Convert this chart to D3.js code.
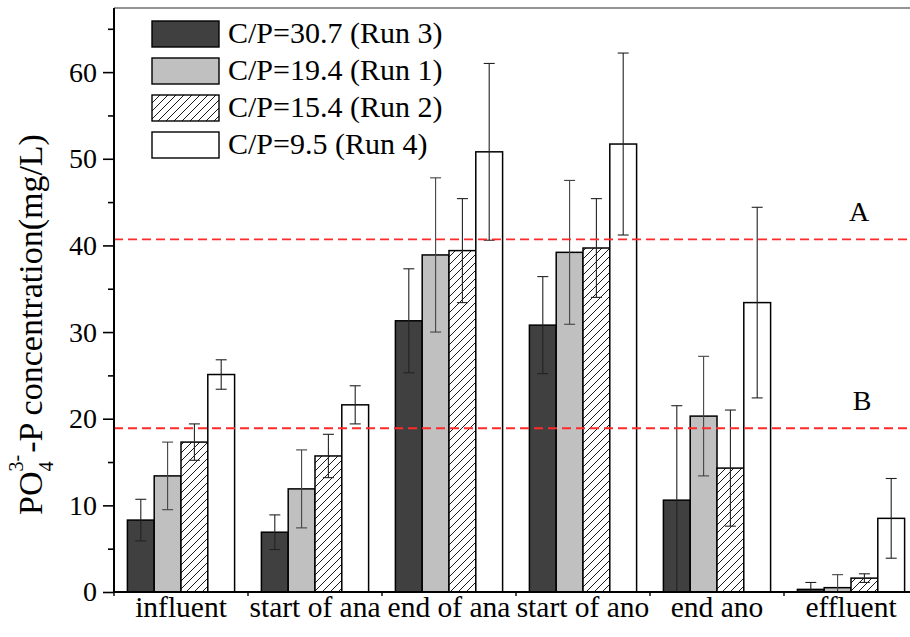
<!DOCTYPE html>
<html>
<head>
<meta charset="utf-8">
<script src="https://cdn.jsdelivr.net/npm/d3@7"></script>
<style>
  body { margin: 0; background: #fff; }
  text { font-family: "Liberation Serif", "Times New Roman", serif; fill: #000; }
</style>
</head>
<body>
<div id="chart"></div>
<script>
var width = 910;
var height = 637;

// data
var categories = ["influent", "start of ana", "end of ana", "start of ano", "end ano", "effluent"];
var seriesNames = ["C/P=30.7 (Run 3)", "C/P=19.4 (Run 1)", "C/P=15.4 (Run 2)", "C/P=9.5 (Run 4)"];
var run3 = [8.3, 6.9, 31.3, 30.8, 10.6, 0.3];
var run3Err = [2.4, 2.0, 6.0, 5.6, 10.9, 0.8];
var run1 = [13.4, 11.9, 38.9, 39.2, 20.3, 0.5];
var run1Err = [3.9, 4.5, 8.9, 8.3, 6.9, 1.5];
var run2 = [17.3, 15.7, 39.4, 39.7, 14.3, 1.6];
var run2Err = [2.1, 2.5, 6.0, 5.7, 6.7, 0.5];
var run4 = [25.1, 21.6, 50.8, 51.7, 33.4, 8.5];
var run4Err = [1.7, 2.2, 10.2, 10.5, 11.0, 4.6];
var refLabels = ["A", "B"];
var refValues = [40.7, 18.9];
var yTicks = [0, 10, 20, 30, 40, 50, 60];

var values = [run3, run1, run2, run4];
var errors = [run3Err, run1Err, run2Err, run4Err];
var fills = ["#404040", "#c0c0c0", "url(#hatch)", "#ffffff"];

var margin = {top: 8, left: 114, bottom: 45};
var plotW = 804;
var plotH = height - margin.top - margin.bottom;

var svg = d3.select("#chart")
      .append("svg")
      .attr("width", width)
      .attr("height", height);

var defs = svg.append("defs");
var pat = defs.append("pattern")
      .attr("id", "hatch")
      .attr("patternUnits", "userSpaceOnUse")
      .attr("width", 8)
      .attr("height", 8);
pat.append("rect").attr("width", 8).attr("height", 8).attr("fill", "#fff");
pat.append("path")
      .attr("d", "M-1,1 l2,-2 M0,8 l8,-8 M7,9 l2,-2")
      .attr("stroke", "#000")
      .attr("stroke-width", 0.9);

var g = svg.append("g").attr("transform", "translate(" + margin.left + "," + margin.top + ")");

var x0 = d3.scaleBand().domain(categories).range([0, plotW]);
var x1 = d3.scaleBand().domain(d3.range(4))
      .range([x0.bandwidth() * 0.1, x0.bandwidth() * 0.9]);
var y = d3.scaleLinear().domain([0, 67.4]).range([plotH, 0]).clamp(true);

var rows = [];
categories.forEach(function(c, i){
  values.forEach(function(v, s){
    rows.push({cat: c, s: s, v: v[i], e: errors[s][i]});
  });
});

// bars
g.selectAll("rect.bar")
  .data(rows)
  .enter()
  .append("rect")
  .attr("class", "bar")
  .attr("x", function(d){ return x0(d.cat) + x1(d.s); })
  .attr("y", function(d){ return y(d.v); })
  .attr("width", x1.bandwidth())
  .attr("height", function(d){ return y(0) - y(d.v); })
  .attr("fill", function(d){ return fills[d.s]; })
  .attr("stroke", "#000")
  .attr("stroke-width", 1.5);

// error bars
var capW = 5.5;
var eb = g.selectAll("g.err")
  .data(rows)
  .enter()
  .append("g")
  .attr("class", "err")
  .attr("stroke", function(d){ return d.s == 1 ? "#444" : "#222"; })
  .attr("stroke-width", 1.1);

eb.append("line")
  .attr("x1", function(d){ return x0(d.cat) + x1(d.s) + x1.bandwidth() / 2; })
  .attr("x2", function(d){ return x0(d.cat) + x1(d.s) + x1.bandwidth() / 2; })
  .attr("y1", function(d){ return y(d.v + d.e); })
  .attr("y2", function(d){ return y(d.v - d.e); });
eb.append("line")
  .attr("x1", function(d){ return x0(d.cat) + x1(d.s) + x1.bandwidth() / 2 - capW; })
  .attr("x2", function(d){ return x0(d.cat) + x1(d.s) + x1.bandwidth() / 2 + capW; })
  .attr("y1", function(d){ return y(d.v + d.e); })
  .attr("y2", function(d){ return y(d.v + d.e); });
eb.append("line")
  .attr("x1", function(d){ return x0(d.cat) + x1(d.s) + x1.bandwidth() / 2 - capW; })
  .attr("x2", function(d){ return x0(d.cat) + x1(d.s) + x1.bandwidth() / 2 + capW; })
  .attr("y1", function(d){ return y(d.v - d.e); })
  .attr("y2", function(d){ return y(d.v - d.e); });

// reference lines
g.selectAll("line.ref")
  .data(refValues)
  .enter()
  .append("line")
  .attr("class", "ref")
  .attr("x1", 0)
  .attr("x2", plotW)
  .attr("y1", function(d){ return y(d); })
  .attr("y2", function(d){ return y(d); })
  .attr("stroke", "#ff2a2a")
  .attr("stroke-width", 1.8)
  .attr("stroke-dasharray", "9,5");

g.selectAll("text.ref")
  .data(refValues)
  .enter()
  .append("text")
  .attr("class", "ref")
  .attr("x", function(d, i){ return i == 0 ? 745 : 748; })
  .attr("y", function(d){ return y(d) - 18; })
  .attr("font-size", 28)
  .attr("text-anchor", "middle")
  .text(function(d, i){ return refLabels[i]; });

// frame top
g.append("line")
  .attr("x1", 0).attr("x2", plotW)
  .attr("y1", 0).attr("y2", 0)
  .attr("stroke", "#707070")
  .attr("stroke-width", 1.6);

// y axis
var yAxis = d3.axisLeft(y).tickValues(yTicks).tickSize(11).tickPadding(6).tickFormat(d3.format("d"));
var ya = g.append("g").call(yAxis);
ya.select(".domain").attr("stroke-width", 2).attr("d", "M0," + plotH + "V0");
ya.selectAll(".tick line").attr("stroke-width", 1.6);
ya.selectAll(".tick text").attr("font-size", 28);

var yMinor = d3.axisLeft(y).tickValues([5, 15, 25, 35, 45, 55, 65]).tickSize(6).tickFormat("");
var ym = g.append("g").call(yMinor);
ym.select(".domain").remove();
ym.selectAll(".tick line").attr("stroke-width", 1.6);

// x axis
var xa = g.append("g")
  .attr("transform", "translate(0," + plotH + ")")
  .call(d3.axisBottom(x0).tickSize(0).tickPadding(4));
xa.select(".domain").attr("stroke-width", 2).attr("d", "M0,0H" + plotW);
xa.selectAll(".tick text").attr("font-size", 29.5).attr("dy", "0.71em");

xa.selectAll("line.bnd")
  .data(categories)
  .enter()
  .append("line")
  .attr("class", "bnd")
  .attr("x1", function(d){ return x0(d); })
  .attr("x2", function(d){ return x0(d); })
  .attr("y1", 0).attr("y2", 4)
  .attr("stroke", "#000")
  .attr("stroke-width", 1.4);

// y title
var title = svg.append("text")
  .attr("transform", "translate(42,515) rotate(-90)")
  .attr("font-size", 34);
title.append("tspan").text("PO");
title.append("tspan").attr("font-size", 20).attr("dy", 11).text("4");
title.append("tspan").attr("font-size", 20).attr("dx", -10).attr("dy", -30).text("3-");
title.append("tspan").attr("dy", 19).attr("dx", 2).text("-P concentration(mg/L)");

// legend
var legend = svg.append("g").attr("transform", "translate(152,21)");
var li = legend.selectAll("g")
  .data(seriesNames)
  .enter()
  .append("g")
  .attr("transform", function(d, i){ return "translate(0," + (i * 37) + ")"; });
li.append("rect")
  .attr("width", 67)
  .attr("height", 26)
  .attr("fill", function(d, i){ return fills[i]; })
  .attr("stroke", "#000")
  .attr("stroke-width", 1.4);
li.append("text")
  .attr("x", 76)
  .attr("y", 22)
  .attr("font-size", 30)
  .text(function(d){ return d; });
</script>
</body>
</html>
